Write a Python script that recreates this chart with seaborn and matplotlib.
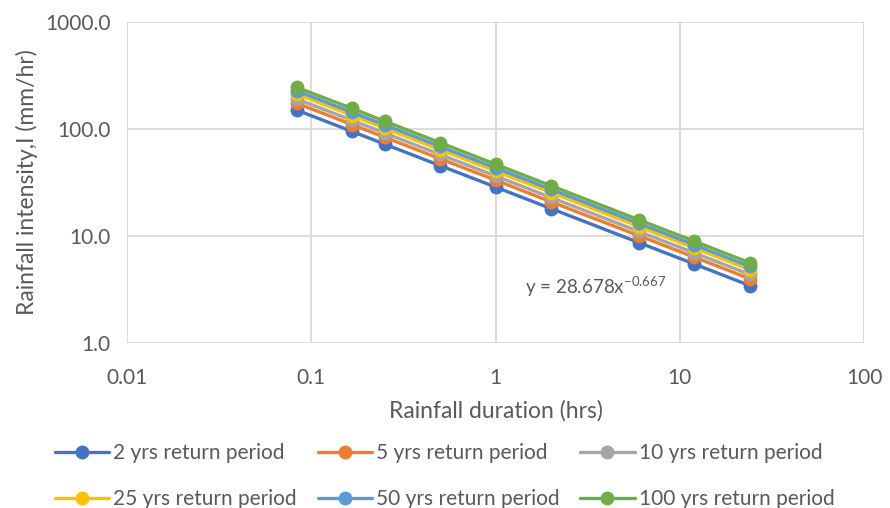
import numpy as np
import pandas as pd
import matplotlib
matplotlib.use("Agg")
import matplotlib.pyplot as plt
import seaborn as sns
from matplotlib.ticker import FixedLocator, FixedFormatter, NullLocator

durations = [0.0833, 0.1667, 0.25, 0.5, 1, 2, 6, 12, 24]
series_names = ["2 yrs return period", "5 yrs return period", "10 yrs return period",
                "25 yrs return period", "50 yrs return period", "100 yrs return period"]
rp2 = [150.4, 94.8, 72.3, 45.5, 28.7, 18.06, 8.68, 5.47, 3.44]
rp5 = [174.5, 110.0, 83.9, 52.8, 33.3, 20.9, 10.07, 6.35, 3.99]
rp10 = [191.0, 120.4, 91.8, 57.8, 36.4, 22.9, 11.02, 6.95, 4.37]
rp25 = [212.1, 133.7, 101.9, 64.2, 40.4, 25.5, 12.24, 7.71, 4.85]
rp50 = [227.1, 143.1, 109.2, 68.7, 43.3, 27.3, 13.11, 8.26, 5.19]
rp100 = [245.1, 155.6, 118.4, 74.5, 46.9, 29.5, 14.17, 8.93, 5.62]
colors = ["#4472C4", "#ED7D31", "#A5A5A5", "#FFC000", "#5B9BD5", "#70AD47"]
x_ticks = [0.01, 0.1, 1, 10, 100]
x_labels = ["0.01", "0.1", "1", "10", "100"]
y_ticks = [1, 10, 100, 1000]
y_labels = ["1.0", "10.0", "100.0", "1000.0"]

rows = []
for name, vals in zip(series_names, [rp2, rp5, rp10, rp25, rp50, rp100]):
    for d, v in zip(durations, vals):
        rows.append({"duration": d, "intensity": v, "series": name})
df = pd.DataFrame(rows)

sns.set_theme(style="white")
plt.rcParams["font.family"] = ["Lato", "DejaVu Sans"]
txt = "#595959"

fig = plt.figure(figsize=(8.9, 5.08), dpi=100)
ax = fig.add_axes([127 / 890, 1 - 343 / 508, (864 - 127) / 890, (343 - 22) / 508])
sns.lineplot(data=df, x="duration", y="intensity", hue="series", hue_order=series_names,
             palette=colors, marker="o", markersize=10, markeredgewidth=0, linewidth=2.4,
             ax=ax, legend=True)
ax.set_xscale("log")
ax.set_yscale("log")
ax.set_xlim(0.01, 100)
ax.set_ylim(1, 1000)
ax.xaxis.set_major_locator(FixedLocator(x_ticks))
ax.xaxis.set_major_formatter(FixedFormatter(x_labels))
ax.xaxis.set_minor_locator(NullLocator())
ax.yaxis.set_major_locator(FixedLocator(y_ticks))
ax.yaxis.set_major_formatter(FixedFormatter(y_labels))
ax.yaxis.set_minor_locator(NullLocator())
ax.grid(True, color="#D9D9D9", linewidth=1.3)
for s in ax.spines.values():
    s.set_visible(False)
ax.tick_params(axis="both", colors=txt, labelsize=15, length=0)
ax.tick_params(axis="x", pad=18)
ax.tick_params(axis="y", pad=12)
ax.set_xlabel("Rainfall duration (hrs)", color=txt, fontsize=16.5, labelpad=9)
ax.set_ylabel("Rainfall intensity,I (mm/hr)", color=txt, fontsize=16.5, labelpad=5)

ax.text(1.45, 3.35, r"y = 28.678x$^{\mathregular{-0.667}}$", color=txt, fontsize=13.5,
        ha="left", va="center")

handles, labels = ax.get_legend_handles_labels()
order = [0, 3, 1, 4, 2, 5]
ax.legend([handles[i] for i in order], [labels[i] for i in order], ncol=3,
          loc="upper center", bbox_to_anchor=(0.431, -0.254), frameon=False,
          fontsize=15, labelcolor=txt, handlelength=2.6, handletextpad=0.2,
          columnspacing=1.0, labelspacing=1.25)

fig.savefig("out.png", dpi=100)
